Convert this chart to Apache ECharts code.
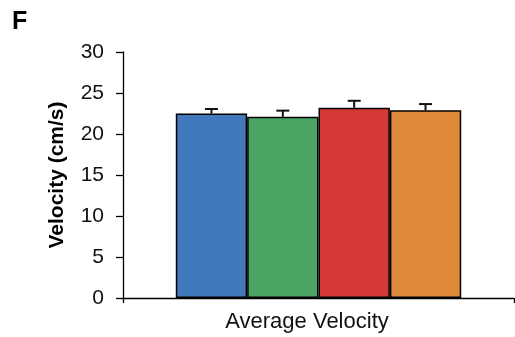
<!DOCTYPE html>
<html>
<head>
<meta charset="utf-8">
<script src="https://cdn.jsdelivr.net/npm/echarts@6/dist/echarts.min.js"></script>
<style>html,body{margin:0;padding:0;background:#fff;}#c{width:515px;height:337px;}</style>
</head>
<body>
<div id="c"></div>
<script>
var categories = ['Average Velocity'];
var groupNames = ['Group 1', 'Group 2', 'Group 3', 'Group 4'];
var means = [22.5, 22.1, 23.2, 22.9];
var errors = [0.55, 0.75, 0.85, 0.75];
var colors = ['#4279BC', '#4AA564', '#D53935', '#E0893A'];
var yTicks = [0, 5, 10, 15, 20, 25, 30];

var CAT_GAP = 0.27; // fraction of category band left empty
var chart = echarts.init(document.getElementById('c'));
var series = [];
groupNames.forEach(function (name, i) {
  series.push({
    name: name,
    type: 'bar',
    data: [means[i]],
    barGap: '0%',
    barCategoryGap: (CAT_GAP * 100) + '%',
    itemStyle: { color: colors[i], borderColor: '#000', borderWidth: 1.5 },
    z: 2
  });
});
series.push({
  type: 'custom',
  z: 5,
  data: groupNames.map(function (n, i) { return [0, means[i], errors[i], i]; }),
  renderItem: function (params, api) {
    var idx = api.value(3);
    var band = api.size([1, 0])[0];
    var bw = band * (1 - CAT_GAP) / groupNames.length;
    var base = api.coord([api.value(0), api.value(1)]);
    var top = api.coord([api.value(0), api.value(1) + api.value(2)]);
    var x = base[0] - band * (1 - CAT_GAP) / 2 + bw * (idx + 0.5);
    var cap = 6.5;
    var st = { stroke: '#111', lineWidth: 2 };
    return {
      type: 'group',
      children: [
        { type: 'line', shape: { x1: x, y1: base[1], x2: x, y2: top[1] }, style: st },
        { type: 'line', shape: { x1: x - cap, y1: top[1], x2: x + cap, y2: top[1] }, style: st }
      ]
    };
  }
});

chart.setOption({
  animation: false,
  title: {
    text: 'F', left: 7, top: 5,
    textStyle: { fontFamily: 'Liberation Sans, Arial', fontWeight: 'bold', fontSize: 25, color: '#000' }
  },
  grid: { left: 123, right: 1, top: 52, bottom: 39 },
  xAxis: {
    type: 'category',
    data: categories,
    axisLine: { lineStyle: { color: '#000', width: 1.3 } },
    axisTick: { show: true, length: 5, lineStyle: { color: '#000', width: 1.3 } },
    axisLabel: {
      color: '#111', fontFamily: 'Liberation Sans, Arial', fontSize: 22, margin: 13,
      padding: [0, 23, 0, 0]
    }
  },
  yAxis: {
    type: 'value',
    min: yTicks[0], max: yTicks[yTicks.length - 1], interval: 5,
    name: 'Velocity (cm/s)',
    nameLocation: 'middle',
    nameGap: 55,
    nameTextStyle: { fontFamily: 'Liberation Sans, Arial', fontWeight: 'bold', fontSize: 21, color: '#000' },
    axisLine: { show: true, lineStyle: { color: '#000', width: 1.3 } },
    axisTick: { show: true, length: 7, lineStyle: { color: '#000', width: 1.3 } },
    axisLabel: { color: '#111', fontFamily: 'Liberation Sans, Arial', fontSize: 21, margin: 19 },
    splitLine: { show: false }
  },
  series: series
});
</script>
</body>
</html>
